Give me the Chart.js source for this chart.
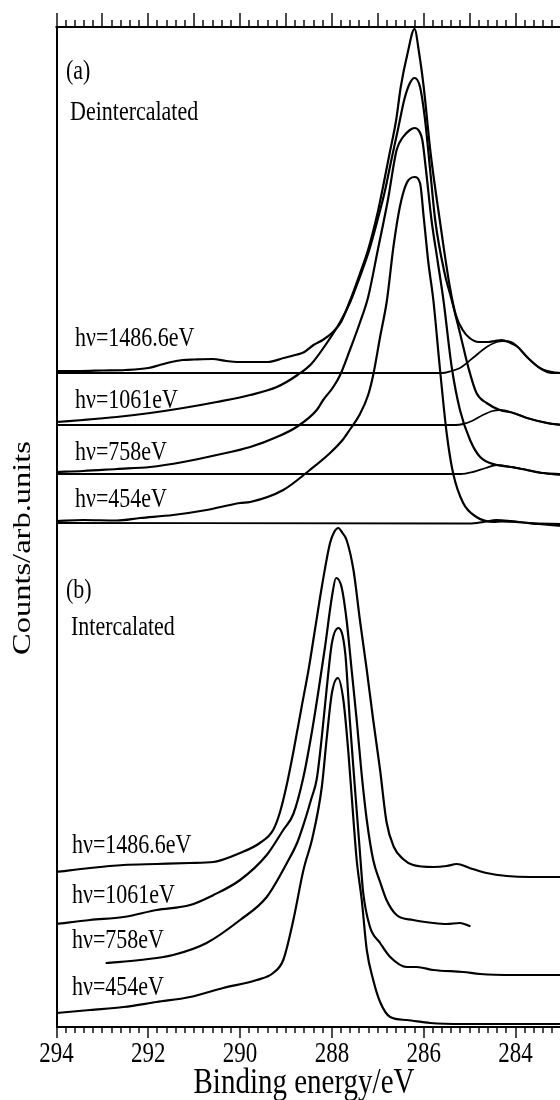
<!DOCTYPE html>
<html>
<head>
<meta charset="utf-8">
<title>C 1s XPS - deintercalated / intercalated</title>
<script src="https://cdn.jsdelivr.net/npm/chart.js@4.4.0/dist/chart.umd.min.js"></script>
<style>
  html, body { margin: 0; padding: 0; background: #fff; overflow: hidden; }
  #wrap { width: 570px; height: 1100px; }
</style>
</head>
<body>
<div id="wrap"><canvas id="xps" width="570" height="1100"></canvas></div>
<script>
// ---- axis / labels ----
const xTickLabels = [294, 292, 290, 288, 286, 284];
const xTitle = 'Binding energy/eV';
const yTitle = 'Counts/arb.units';
const panelLabels = ['(a)', '(b)'];
const panelNames = ['Deintercalated', 'Intercalated'];
const photonLabels = ['hν=1486.6eV', 'hν=1061eV', 'hν=758eV', 'hν=454eV'];

// ---- panel (a) deintercalated : [binding energy, counts] ----
const a1486 = [[294.0,656],[293.5,656],[293.0,656.5],[292.5,657],[292.0,659],[291.75,662],[291.5,665],[291.25,667],[291.0,667.5],[290.6,668],[290.3,666],[290.07,665],[289.7,665],[289.4,665],[289.05,669],[288.8,672],[288.6,675],[288.4,682],[288.2,687],[288.0,694],[287.8,705],[287.6,727],[287.4,752],[287.2,779],[287.0,815],[286.9,837],[286.75,872],[286.6,907],[286.5,940],[286.35,974],[286.2,998],[286.1,974],[286.0,940],[285.85,874],[285.65,807],[285.43,740],[285.3,712],[285.15,697],[285.0,689],[284.8,685],[284.6,685],[284.45,686],[284.3,687],[284.15,685],[283.95,680],[283.75,670],[283.47,659],[283.2,654],[283.0,654]];
const a1061 = [[294.0,605],[293.42,607],[292.69,610],[291.96,614],[291.24,619],[290.51,625],[289.78,632],[289.2,640],[288.75,652],[288.45,663],[288.11,684],[287.82,705],[287.6,725],[287.4,749],[287.2,775],[287.0,808],[286.85,835],[286.7,868],[286.55,900],[286.42,928],[286.3,944],[286.2,949],[286.08,940],[285.97,907],[285.86,857],[285.75,807],[285.55,755],[285.39,727],[285.21,694],[285.03,660],[284.85,634],[284.63,624],[284.34,617],[284.05,614],[283.75,609],[283.31,604],[283.0,602]];
const a758 = [[294.0,555],[293.42,556],[292.69,558],[291.96,560],[291.24,565],[290.51,572],[289.78,580],[289.2,590],[288.77,600],[288.33,617],[288.19,627],[287.97,640],[287.82,652],[287.6,678],[287.4,703],[287.21,730],[287.0,777],[286.78,827],[286.59,877],[286.45,890],[286.3,897],[286.2,899],[286.1,896],[286.03,887],[285.95,857],[285.83,807],[285.7,767],[285.57,727],[285.39,660],[285.21,617],[284.99,587],[284.77,570],[284.41,562],[284.1,560],[283.75,557],[283.4,554],[283.0,552]];
const a454 = [[294.0,506],[293.42,507],[292.69,506.5],[292.18,509],[291.46,512],[290.73,517],[290.0,524],[289.78,525],[289.06,537],[288.48,557],[288.04,574],[287.75,588],[287.6,598],[287.4,612],[287.21,632],[287.1,652],[286.95,690],[286.8,727],[286.66,780],[286.52,820],[286.37,844],[286.2,850],[286.08,844],[286.0,810],[285.9,765],[285.79,727],[285.65,660],[285.5,594],[285.36,554],[285.14,524],[284.85,510],[284.48,505],[284.3,505.5],[284.0,505],[283.5,503],[283.0,501]];

// fitted background + low-energy component for each spectrum in (a)
const fit1486 = [[294.0,654],[285.6,654],[285.4,656],[285.21,659],[284.93,669],[284.63,680],[284.41,685],[284.28,686],[284.05,684],[283.75,670],[283.47,659],[283.2,655],[283.0,654]];
const fit1061 = [[294.0,602],[285.3,602],[285.14,603],[284.95,606],[284.71,612],[284.5,616],[284.34,617],[284.1,615],[283.75,609],[283.31,604],[283.0,602]];
const fit758 = [[294.0,553],[285.2,553],[284.93,555],[284.65,559],[284.41,562],[284.1,560],[283.75,557],[283.4,554],[283.0,553]];
const fit454 = [[294.0,504],[285.0,503.5],[284.7,505],[284.41,507],[284.1,506],[283.7,504],[283.0,503]];

// ---- panel (b) intercalated ----
const b1486 = [[294.0,155],[293.27,159],[292.54,162],[291.82,163],[291.09,164],[290.58,165],[290.0,174],[289.57,184],[289.28,197],[289.13,215],[288.98,243],[288.84,275],[288.66,320],[288.51,357],[288.37,397],[288.22,440],[288.04,484],[287.95,495],[287.86,499],[287.77,494],[287.68,487],[287.53,457],[287.39,407],[287.24,357],[287.1,307],[286.95,257],[286.81,205],[286.65,180],[286.45,168],[286.23,162],[285.79,160],[285.5,161],[285.28,163],[285.0,159],[284.63,154],[284.19,151],[283.68,150],[283.0,150]];
const b1061 = [[294.0,103],[293.27,107],[292.54,110],[291.82,117],[291.09,122],[290.58,132],[290.0,147],[289.42,172],[289.06,197],[288.84,213],[288.62,250],[288.44,294],[288.3,334],[288.15,380],[288.0,430],[287.91,449],[287.79,440],[287.68,407],[287.57,357],[287.46,307],[287.35,252],[287.24,207],[287.1,167],[286.95,145],[286.81,127],[286.59,112],[286.23,107],[285.79,104],[285.5,103],[285.21,104],[285.0,101]];
const b758 = [[292.91,64],[292.18,67],[291.46,72],[290.73,84],[290.0,107],[289.42,130],[288.98,164],[288.75,185],[288.6,205],[288.45,228],[288.33,248],[288.22,290],[288.11,340],[288.0,384],[287.86,399],[287.71,374],[287.61,307],[287.5,240],[287.39,175],[287.32,135],[287.17,100],[286.95,84],[286.73,70],[286.37,60],[286.15,60],[285.79,57],[285.14,55],[284.77,53],[284.05,52],[283.47,52],[283.0,52]];
const b454 = [[294.0,14],[293.27,17],[292.54,20],[291.82,25],[291.09,30],[290.37,39],[289.64,47],[289.28,54],[289.06,67],[288.84,107],[288.62,157],[288.42,190],[288.22,240],[288.11,290],[288.0,334],[287.87,349],[287.75,327],[287.64,274],[287.53,207],[287.46,167],[287.35,127],[287.24,77],[287.1,47],[286.95,25],[286.73,10],[286.37,7],[285.86,4],[285.14,3],[283.0,3]];

const allSeries = [a1486, a1061, a758, a454, fit1486, fit1061, fit758, fit454, b1486, b1061, b758, b454];

const SERIF = "'Liberation Serif', 'DejaVu Serif', serif";

// text in the original figure is stretched vertically
function tallText(ctx, str, x, y, size, sy, align) {
  ctx.save();
  ctx.translate(x, y);
  ctx.scale(1, sy);
  ctx.font = size + 'px ' + SERIF;
  ctx.textAlign = align || 'left';
  ctx.textBaseline = 'alphabetic';
  ctx.fillStyle = '#000';
  ctx.fillText(str, 0, 0);
  ctx.restore();
}

// top frame line, minor/major tick marks top and bottom
const frameTicks = {
  id: 'frameTicks',
  afterDraw(chart) {
    const { ctx, chartArea: a, scales: { x } } = chart;
    ctx.save();
    ctx.strokeStyle = '#000';
    ctx.lineWidth = 2;
    ctx.beginPath();
    ctx.moveTo(a.left - 1, a.top);
    ctx.lineTo(a.right, a.top);
    ctx.stroke();
    ctx.lineWidth = 1.4;
    ctx.beginPath();
    for (let i = 0; i <= 55; i++) {
      const px = Math.round(x.getPixelForValue(294 - i * 0.2));
      const major = i % 5 === 0;
      ctx.moveTo(px, a.top);
      ctx.lineTo(px, a.top - (major ? 14 : 7));
      ctx.moveTo(px, a.bottom);
      ctx.lineTo(px, a.bottom + (i % 10 === 0 ? 11 : 6));
    }
    ctx.stroke();
    ctx.restore();
  }
};

// tick labels, axis titles and in-plot annotations
const figureText = {
  id: 'figureText',
  afterDraw(chart) {
    const { ctx, scales: { x } } = chart;
    xTickLabels.forEach(v => tallText(ctx, String(v), x.getPixelForValue(v), 1062, 23, 1.25, 'center'));
    tallText(ctx, xTitle, 304, 1093, 29, 1.2, 'center');

    ctx.save();
    ctx.translate(30, 548);
    ctx.scale(1, 1.25);
    ctx.rotate(-Math.PI / 2);
    ctx.font = '26px ' + SERIF;
    ctx.textAlign = 'center';
    ctx.fillStyle = '#000';
    ctx.fillText(yTitle, 0, 0);
    ctx.restore();

    tallText(ctx, panelLabels[0], 66, 79, 22, 1.2);
    tallText(ctx, panelNames[0], 70, 120, 22, 1.2);
    tallText(ctx, panelLabels[1], 66, 598, 22, 1.2);
    tallText(ctx, panelNames[1], 71, 635, 22, 1.2);

    const aY = [346, 408, 460, 507];
    const bY = [853, 903, 948, 995];
    photonLabels.forEach((t, i) => {
      tallText(ctx, t, 75, aY[i], 22, 1.2);
      tallText(ctx, t, 72, bY[i], 22, 1.2);
    });
  }
};

const datasets = allSeries.map((s, i) => ({
  label: 'series' + i,
  data: s.map(p => ({ x: p[0], y: p[1] })),
  borderColor: '#000',
  borderWidth: i >= 4 && i < 8 ? 1.8 : 2.2,
  pointRadius: 0,
  fill: false,
  cubicInterpolationMode: 'monotone',
  borderJoinStyle: 'round',
  borderCapStyle: 'round'
}));

new Chart(document.getElementById('xps'), {
  type: 'line',
  data: { datasets },
  options: {
    responsive: false,
    animation: false,
    devicePixelRatio: 1,
    layout: { padding: { top: 27, right: 8.6, left: 0, bottom: 0 } },
    plugins: { legend: { display: false }, tooltip: { enabled: false } },
    scales: {
      x: {
        type: 'linear',
        reverse: true,
        min: 283,
        max: 294,
        grid: { display: false, drawTicks: false },
        border: { display: true, color: '#000', width: 2 },
        ticks: { display: false },
        afterBuildTicks: s => { s.ticks = xTickLabels.map(v => ({ value: v })); },
        afterFit: s => { s.height = 73; }
      },
      y: {
        type: 'linear',
        min: 0,
        max: 1000,
        grid: { display: false, drawTicks: false },
        border: { display: true, color: '#000', width: 2 },
        ticks: { display: false },
        afterFit: s => { s.width = 56.5; }
      }
    }
  },
  plugins: [frameTicks, figureText]
});
</script>
</body>
</html>
